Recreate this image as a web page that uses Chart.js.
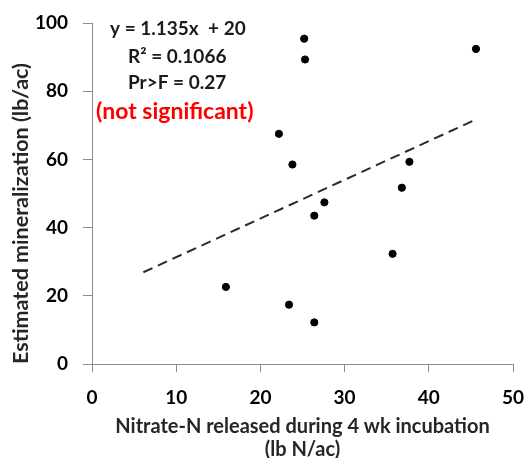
<!DOCTYPE html>
<html>
<head>
<meta charset="utf-8">
<script src="https://cdn.jsdelivr.net/npm/chart.js@4/dist/chart.umd.min.js"></script>
<style>
  html, body { margin: 0; padding: 0; background: #fff; }
  #wrap { width: 527px; height: 458px; position: relative; }
</style>
</head>
<body>
<div id="wrap"><canvas id="c" width="527" height="458"></canvas></div>
<script>
// Observed points: nitrate-N released (x) vs estimated mineralization (y)
const nitrateN = [25.2, 25.3, 45.6, 22.2, 23.8, 37.7, 36.8, 27.6, 26.4, 35.7, 15.9, 23.4, 26.4];
const mineralization = [95.4, 89.3, 92.4, 67.5, 58.5, 59.3, 51.7, 47.4, 43.5, 32.3, 22.6, 17.4, 12.2];
// Linear trend line end points (as drawn)
const trendX = [6.1, 45.5];
const trendY = [26.9, 71.6];
// Axis ranges / ticks
const xTicks = [0, 10, 20, 30, 40, 50];
const yTicks = [0, 20, 40, 60, 80, 100];
// Annotation text
const statLines = ["y = 1.135x  + 20", "R\u00B2 = 0.1066", "Pr>F = 0.27"];
const sigNote = "(not significant)";

const FONT = "Lato, 'Open Sans', sans-serif";

const annotationPlugin = {
  id: 'annot',
  afterDatasetsDraw(chart) {
    const ctx = chart.ctx;
    const a = chart.chartArea;
    ctx.save();
    ctx.textBaseline = 'middle';
    ctx.fillStyle = '#1a1a1a';
    ctx.font = "bold 19px " + FONT;
    ctx.textAlign = 'left';
    ctx.fillText(statLines[0], a.left + 18, 29);
    ctx.fillText(statLines[1], a.left + 36, 57);
    ctx.fillText(statLines[2], a.left + 36, 83);
    ctx.fillStyle = '#ff0000';
    ctx.font = "bold 23px " + FONT;
    ctx.fillText(sigNote, a.left + 4, 112);
    ctx.restore();
  }
};

new Chart(document.getElementById('c'), {
  type: 'scatter',
  data: {
    datasets: [
      {
        data: nitrateN.map((x, i) => ({ x: x, y: mineralization[i] })),
        backgroundColor: '#000',
        borderColor: '#000',
        pointRadius: 3.6,
        pointHoverRadius: 3.6
      },
      {
        type: 'line',
        data: trendX.map((x, i) => ({ x: x, y: trendY[i] })),
        borderColor: '#2a2a2a',
        borderWidth: 2,
        borderDash: [10, 6],
        pointRadius: 0,
        fill: false
      }
    ]
  },
  plugins: [annotationPlugin],
  options: {
    responsive: false,
    animation: false,
    layout: { padding: { top: 23, right: 14, left: 4, bottom: 0 } },
    plugins: { legend: { display: false }, tooltip: { enabled: false } },
    scales: {
      x: {
        type: 'linear',
        min: xTicks[0], max: xTicks[xTicks.length - 1],
        afterBuildTicks(s) { s.ticks = xTicks.map(v => ({ value: v })); },
        grid: { drawOnChartArea: false, color: '#8c8c8c', tickLength: 8, lineWidth: 1 },
        border: { color: '#8c8c8c', width: 1 },
        ticks: { color: '#000', font: { family: FONT, size: 19, weight: 'bold' }, padding: 14, maxRotation: 0 },
        title: {
          display: true,
          text: ['Nitrate-N released during 4 wk incubation', '(lb N/ac)'],
          color: '#262626',
          font: { family: FONT, size: 20, weight: 'bold', lineHeight: 1.15 },
          padding: { top: 0, bottom: -3 }
        },
        afterFit(s) { s.height = 94; s.paddingRight = 0; s.paddingLeft = 0; }
      },
      y: {
        type: 'linear',
        min: yTicks[0], max: yTicks[yTicks.length - 1],
        afterBuildTicks(s) { s.ticks = yTicks.map(v => ({ value: v })); },
        grid: { drawOnChartArea: false, color: '#8c8c8c', tickLength: 9, lineWidth: 1 },
        border: { color: '#8c8c8c', width: 1 },
        ticks: { color: '#000', font: { family: FONT, size: 19, weight: 'bold' }, padding: 15 },
        title: {
          display: true,
          align: 'start',
          text: 'Estimated mineralization (lb/ac)',
          color: '#262626',
          font: { family: FONT, size: 21.5, weight: 'bold' },
          padding: { top: 4, bottom: 0 }
        },
        afterFit(s) { s.width = 88; s.paddingTop = 0; s.paddingBottom = 0; }
      }
    }
  }
});
</script>
</body>
</html>
